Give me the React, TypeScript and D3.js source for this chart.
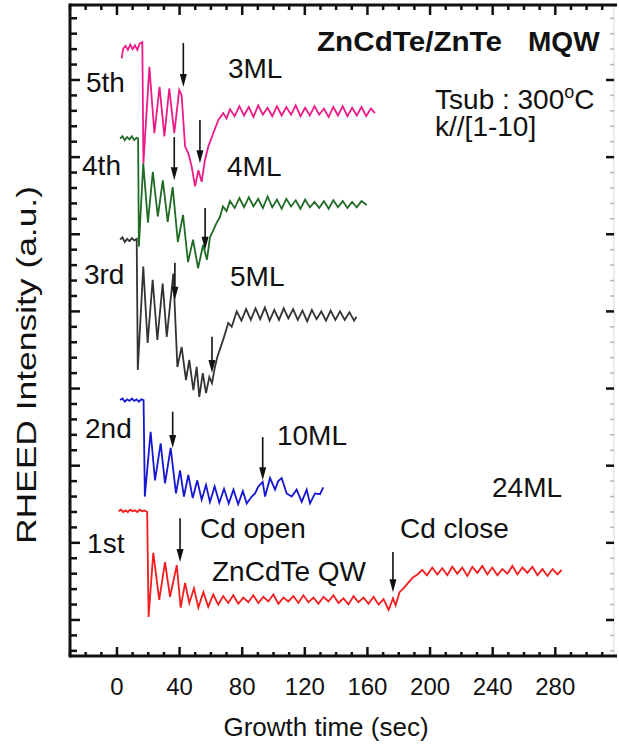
import React from "react";
import * as d3 from "d3";

type Pt = [number, number];

// RHEED intensity traces (time in sec, intensity in a.u.)
const trace1st: Pt[] = [
    [1, 14.1], [2.5, 14.3], [4, 14.0], [5.5, 14.2], [7, 14.0], [8.5, 14.3], [10, 14.1], [11.5, 14.2], [13, 14.0], [14.5, 14.3], [16, 14.1], [17.5, 14.2], [19.3, 14.0],
    [20.2, 0.4], [23.2, 8.7], [27.0, 2.6], [30.7, 7.5], [33.9, 3.0], [38.2, 7.1], [40.7, 1.6], [43.5, 4.8], [46.2, 2.2], [49.2, 4.1], [52.0, 1.6], [55.2, 3.6], [58.3, 1.7],
    [61.5, 3.3], [64.7, 2.0], [67.9, 3.1], [71.1, 2.2], [74.3, 3.2], [77.5, 2.1], [80.7, 2.9], [83.9, 2.3], [87.1, 3.2], [90.3, 2.2], [93.5, 3.0], [96.7, 2.4],
    [99.9, 3.3], [103.1, 2.1], [106.3, 2.9], [109.5, 2.4], [112.7, 3.1], [115.9, 2.2], [119.1, 3.2], [122.3, 2.3], [125.5, 2.9], [128.7, 2.1], [131.9, 3.0],
    [135.1, 2.4], [138.3, 3.2], [141.5, 2.2], [144.7, 2.8], [147.9, 2.0], [151.1, 3.1], [154.3, 2.3], [157.5, 2.9], [160.7, 2.1], [163.9, 3.0], [167.1, 2.0],
    [170.3, 2.7], [173.5, 1.3], [176.3, 2.8], [178.0, 1.9], [180.5, 3.6], [183, 4.1], [186, 4.8], [189, 5.5], [192, 5.9], [195, 6.5], [198, 5.8], [201.4, 6.8],
    [204.6, 5.9], [207.8, 6.7], [211, 5.8], [214.2, 6.9], [217.4, 6.0], [220.6, 6.8], [223.8, 5.7], [227, 6.9], [230.2, 6.1], [233.4, 7.0], [236.6, 5.9],
    [239.8, 6.8], [243, 5.8], [246.2, 6.6], [249.4, 6.0], [252.6, 7.0], [255.8, 5.9], [259, 6.8], [262.2, 6.1], [265.4, 6.9], [268.6, 5.8], [271.8, 6.6],
    [275, 5.7], [278.2, 6.6], [281.4, 5.9], [284.1, 6.5],
];

const trace2nd: Pt[] = [
    [2, 28.5], [3.5, 28.7], [5, 28.3], [6.5, 28.6], [8, 28.4], [9.5, 28.7], [11, 28.4], [12.5, 28.6], [14, 28.3], [15.5, 28.6], [17, 28.5],
    [17.8, 16.0], [21.5, 24.4], [24.3, 18.1], [27.9, 22.9], [30.7, 17.7], [34.3, 22.3], [37.7, 16.4], [40.3, 19.4], [42.8, 16.0], [45.6, 18.8], [48.4, 15.8],
    [51.3, 18.1], [54.1, 15.6], [56.9, 17.5], [59.4, 15.3], [62.4, 17.3], [65.4, 15.2], [68.4, 17.0], [71.4, 15.1], [74.4, 16.9], [77.4, 15.0], [80.4, 16.7],
    [82.9, 15.1], [86.1, 16.0], [88.2, 16.4], [90.3, 17.3], [93.1, 17.9], [94.6, 16.0], [97.8, 18.4], [101, 16.9], [103, 18.0], [105.2, 18.4], [108.4, 16.4],
    [111.6, 16.0], [114.8, 16.9], [118, 15.3], [121.2, 16.9], [123.3, 15.1], [126.5, 16.4], [129.7, 16.3], [131.8, 17.2],
];

const trace3rd: Pt[] = [
    [2, 49.3], [3.5, 49.6], [5, 49.0], [6.5, 49.4], [8, 49.1], [9.5, 49.5], [11, 49.2], [12.6, 49.4],
    [13.3, 32.4], [16.8, 45.8], [19.6, 35.9], [22.8, 44.1], [25.8, 36.3], [29.2, 43.6], [31.8, 36.7], [36.0, 44.9], [38.6, 32.8], [41.3, 35.4], [44.1, 31.1],
    [46.2, 33.7], [48.8, 29.8], [50.9, 32.8], [52.6, 28.9], [54.8, 32.0], [56.9, 29.4], [59.0, 31.5], [60.7, 30.7], [62.6, 32.8], [64.1, 34.1], [66.3, 35.4],
    [68.4, 36.7], [71.1, 38.5], [73.3, 38.0], [76.5, 40.0], [79.5, 38.8], [82.5, 40.3], [85.5, 38.9], [88.5, 40.4], [91.5, 39.0], [94.5, 40.5], [97.5, 38.8],
    [100.5, 40.2], [103.5, 38.9], [106.5, 40.4], [109.5, 39.1], [112.5, 40.3], [115.5, 38.9], [118.5, 40.1], [121.5, 38.7], [124.5, 40.2], [127.5, 39.0],
    [130.5, 40.0], [133.5, 38.8], [136.5, 40.1], [139.5, 38.9], [142.5, 40.0], [145.5, 38.9], [148.5, 39.9], [151.5, 38.8], [153, 39.3],
];

const trace4th: Pt[] = [
    [2, 62.4], [3.5, 62.7], [5, 62.2], [6.5, 62.6], [8, 62.3], [9.5, 62.7], [11, 62.2], [12.5, 62.5], [13.5, 62.4],
    [14.0, 48.4], [16.8, 59.2], [19.8, 51.5], [22.9, 58.1], [26.1, 52.3], [29.3, 57.0], [32.4, 51.6], [35.6, 56.1], [38.9, 49.0], [42.2, 52.5], [45.4, 46.4],
    [48.6, 49.3], [51.8, 45.6], [55.0, 48.6], [57.5, 46.7], [59.4, 49.6], [61.5, 50.5], [63.7, 51.5], [65.7, 52.2], [67.7, 53.6], [70, 53.0], [72.2, 54.3],
    [75.2, 53.4], [78.2, 54.7], [81.2, 53.5], [84.2, 54.8], [87.2, 53.6], [90.2, 54.6], [93.2, 53.4], [96.2, 54.9], [99.2, 53.5], [102.2, 54.5], [105.2, 53.3],
    [108.2, 54.6], [111.2, 53.6], [114.2, 54.4], [117.2, 53.3], [120.2, 54.5], [123.2, 53.5], [126.2, 54.2], [129.2, 53.4], [132.2, 54.3], [135.2, 53.3],
    [138.2, 54.4], [141.2, 53.5], [144.2, 54.3], [147.2, 53.4], [150.2, 54.2], [153.2, 53.5], [156.2, 54.3], [159.5, 53.8],
];

const trace5th: Pt[] = [
    [3, 72.8], [4, 74.1], [5.5, 74.4], [7, 73.9], [8.5, 74.6], [10, 74.0], [11.5, 74.5], [13, 73.9], [14.5, 74.7], [16.2, 74.9],
    [16.9, 59.2], [20.7, 71.7], [23.9, 63.1], [27.2, 69.1], [30.3, 62.7], [33.4, 68.9], [36.6, 63.1], [39.8, 68.7], [41.3, 68.0], [43.5, 61.4], [45.6, 60.5],
    [47.7, 58.8], [49.9, 56.2], [52.0, 58.3], [54.1, 56.8], [56.2, 59.6], [58.4, 61.4], [61.5, 63.1], [64.7, 64.8], [67.9, 65.7], [70, 65.0], [72.2, 66.2],
    [75.2, 65.3], [78.2, 66.6], [81.2, 65.4], [84.2, 66.5], [87.2, 65.2], [90.2, 66.7], [93.2, 65.5], [96.2, 66.4], [99.2, 65.3], [102.2, 66.6], [105.2, 65.4],
    [108.2, 66.5], [111.2, 65.5], [114.2, 66.7], [117.2, 65.3], [120.2, 66.4], [123.2, 65.4], [126.2, 66.6], [129.2, 65.5], [132.2, 66.3], [135.2, 65.2],
    [138.2, 66.5], [141.2, 65.4], [144.2, 66.6], [147.2, 65.3], [150.2, 66.4], [153.2, 65.4], [156.2, 66.5], [159.2, 65.3], [162.2, 66.3], [164.8, 65.7],
];

const traceNames = ["1st", "2nd", "3rd", "4th", "5th"];
const traceColors = ["#f41c1c", "#1616d2", "#333333", "#1f6b25", "#ec1b87"];
const traceData = [trace1st, trace2nd, trace3rd, trace4th, trace5th];

// arrows: [time, tail intensity, tip intensity]
const arrows: [number, number, number][] = [
    [42.4, 74.8, 69.1], [53.0, 64.8, 59.2],
    [36.6, 62.6, 57.0], [56.3, 53.4, 48.0],
    [37.0, 46.3, 41.5], [60.7, 36.7, 32.0],
    [35.6, 27.0, 22.3], [93.1, 23.7, 18.1],
    [40.3, 13.2, 7.5], [176.3, 8.8, 3.6],
];

// text labels anchored in data coordinates
const traceLabelPos: Pt[] = [[-19.1, 8.7], [-20.4, 23.6], [-21.1, 43.6], [-22.3, 57.7], [-19.8, 68.4]];
const notes: { text: string; at: Pt }[] = [
    { text: "3ML", at: [70.9, 70.3] },
    { text: "4ML", at: [70.3, 57.6] },
    { text: "5ML", at: [72.2, 43.3] },
    { text: "10ML", at: [102.2, 22.7] },
    { text: "24ML", at: [239.6, 15.9] },
    { text: "Cd open", at: [53.0, 10.6] },
    { text: "Cd close", at: [180.8, 10.6] },
    { text: "ZnCdTe QW", at: [60.7, 5.1] },
    { text: "k//[1-10]", at: [203.2, 62.8] },
];

const xTickLabels = [0, 40, 80, 120, 160, 200, 240, 280];

const FONT = "'Liberation Sans', Arial, Helvetica, sans-serif";

export default function App() {
    const W = 619, H = 748;
    const m = { left: 70, right: 614, top: 5, bottom: 656 };

    const x = d3.scaleLinear().domain([-30, 317.5]).range([m.left, m.right]);
    const y = d3.scaleLinear().domain([-4.67, 79.72]).range([m.bottom, m.top]);

    const line = d3.line<Pt>().x(d => x(d[0])).y(d => y(d[1]));

    const xMinor = d3.range(-30, 317, 10).filter(v => v % 40 !== 0);
    const yMajor = d3.range(0, 71, 10);
    const yMinor = d3.range(-4, 79.7, 2).filter(v => v % 10 !== 0);

    return (
        <svg width={W} height={H} style={{ position: "absolute", left: 0, top: 0, background: "#fff" }} fontFamily={FONT}>
            {/* right axis (faint in the original) */}
            <line x1={m.right} x2={m.right} y1={m.top} y2={m.bottom} stroke="#d8d8d8" strokeWidth={1} />
            {yMinor.map(v => (
                <line key={"rm" + v} x1={m.right - 4} x2={m.right} y1={y(v)} y2={y(v)} stroke="#b5b5b5" strokeWidth={1.5} />
            ))}
            {yMajor.map(v => (
                <line key={"rM" + v} x1={m.right - 8} x2={m.right} y1={y(v)} y2={y(v)} stroke="#111" strokeWidth={2.5} />
            ))}

            {/* traces */}
            {traceData.map((d, i) => (
                <path key={traceNames[i]} d={line(d) || ""} fill="none" stroke={traceColors[i]} strokeWidth={1.8} />
            ))}

            {/* arrows */}
            {arrows.map(([t, v0, v1], i) => {
                const ax = x(t), y0 = y(v0), y1 = y(v1);
                return (
                    <g key={"a" + i}>
                        <line x1={ax} x2={ax} y1={y0} y2={y1 - 8} stroke="#111" strokeWidth={1.6} />
                        <path d={`M${ax},${y1} L${ax - 3.5},${y1 - 13} L${ax + 3.5},${y1 - 13} Z`} fill="#111" />
                    </g>
                );
            })}

            {/* frame */}
            <line x1={m.left} x2={m.left} y1={m.top - 1.5} y2={m.bottom + 1.5} stroke="#111" strokeWidth={3} />
            <line x1={m.left} x2={m.right + 3} y1={m.bottom} y2={m.bottom} stroke="#111" strokeWidth={3} />
            <line x1={m.left} x2={m.right + 3} y1={m.top} y2={m.top} stroke="#111" strokeWidth={3} />

            {/* left ticks */}
            {yMinor.map(v => (
                <line key={"lm" + v} x1={m.left} x2={m.left + 7} y1={y(v)} y2={y(v)} stroke="#111" strokeWidth={2.5} />
            ))}
            {yMajor.map(v => (
                <line key={"lM" + v} x1={m.left} x2={m.left + 10} y1={y(v)} y2={y(v)} stroke="#111" strokeWidth={2.5} />
            ))}

            {/* top & bottom ticks */}
            {xMinor.map(v => (
                <g key={"xm" + v}>
                    <line x1={x(v)} x2={x(v)} y1={m.bottom} y2={m.bottom - 4} stroke="#111" strokeWidth={2.5} />
                    <line x1={x(v)} x2={x(v)} y1={m.top} y2={m.top + 5} stroke="#111" strokeWidth={2.5} />
                </g>
            ))}
            {xTickLabels.map(v => (
                <g key={"xM" + v}>
                    <line x1={x(v)} x2={x(v)} y1={m.bottom} y2={m.bottom - 9} stroke="#111" strokeWidth={2.5} />
                    <line x1={x(v)} x2={x(v)} y1={m.top} y2={m.top + 10} stroke="#111" strokeWidth={2.5} />
                    <text x={x(v)} y={695} textAnchor="middle" fontSize={24} fill="#111">{v}</text>
                </g>
            ))}

            {/* axis titles */}
            <text x={326} y={736} textAnchor="middle" fontSize={26} fill="#111">Growth time (sec)</text>
            <text transform="translate(36,365) rotate(-90)" textAnchor="middle" fontSize={28} fill="#111"
                textLength={358} lengthAdjust="spacingAndGlyphs">RHEED Intensity (a.u.)</text>

            {/* trace labels */}
            {traceNames.map((n, i) => (
                <text key={"tl" + n} x={x(traceLabelPos[i][0])} y={y(traceLabelPos[i][1])} fontSize={28} fill="#111">{n}</text>
            ))}

            {/* annotations */}
            {notes.map(n => (
                <text key={n.text} x={x(n.at[0])} y={y(n.at[1])} fontSize={28} fill="#111">{n.text}</text>
            ))}
            <text x={x(203.2)} y={y(66.2)} fontSize={28} fill="#111">
                Tsub : 300<tspan fontSize={18} dy={-11}>o</tspan><tspan dy={11}>C</tspan>
            </text>
            <text x={x(127.8)} y={y(73.8)} fontSize={28} fontWeight="bold" fill="#111"
                textLength={185} lengthAdjust="spacingAndGlyphs">ZnCdTe/ZnTe</text>
            <text x={x(262.6)} y={y(73.8)} fontSize={28} fontWeight="bold" fill="#111">MQW</text>
        </svg>
    );
}
